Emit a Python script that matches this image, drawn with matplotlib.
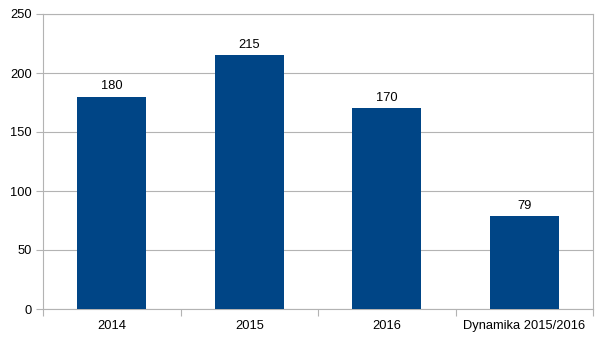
import matplotlib
matplotlib.use("Agg")
import matplotlib.pyplot as plt
from matplotlib.ticker import FixedLocator

plt.rcParams['font.family'] = ['Liberation Sans', 'DejaVu Sans']

categories = ["2014", "2015", "2016", "Dynamika 2015/2016"]
values = [180, 215, 170, 79]
y_ticks = [0, 50, 100, 150, 200, 250]

bar_color = "#004586"
grid_color = "#b3b3b3"
fs = 9.3

fig = plt.figure(figsize=(6.05, 3.40), dpi=100)
ax = fig.add_axes([43 / 605, 31 / 340, 550 / 605, 295 / 340])

x = list(range(len(categories)))
bars = ax.bar(x, values, width=0.5, color=bar_color, zorder=3)

for xi, v in zip(x, values):
    ax.annotate(str(v), (xi, v), xytext=(0, 3), textcoords="offset points",
                ha="center", va="bottom", fontsize=fs, color="#000000")

ax.set_xlim(-0.5, len(categories) - 0.5)
ax.set_ylim(0, 250)
ax.set_yticks(y_ticks)
ax.set_yticklabels([str(t) for t in y_ticks], fontsize=fs)
ax.yaxis.grid(True, color=grid_color, linewidth=0.8, zorder=0)

ax.set_xticks(x)
ax.set_xticklabels(categories, fontsize=fs)
ax.xaxis.set_minor_locator(FixedLocator([i - 0.5 for i in range(len(categories) + 1)]))
ax.tick_params(axis="x", which="major", length=0, pad=8)
ax.tick_params(axis="x", which="minor", length=5, color=grid_color, width=0.8)
ax.tick_params(axis="y", length=5, color=grid_color, width=0.8, pad=3)

for side in ["left", "right", "bottom", "top"]:
    ax.spines[side].set_color(grid_color)
    ax.spines[side].set_linewidth(0.8)

fig.savefig("out.png", dpi=100, facecolor="white")
